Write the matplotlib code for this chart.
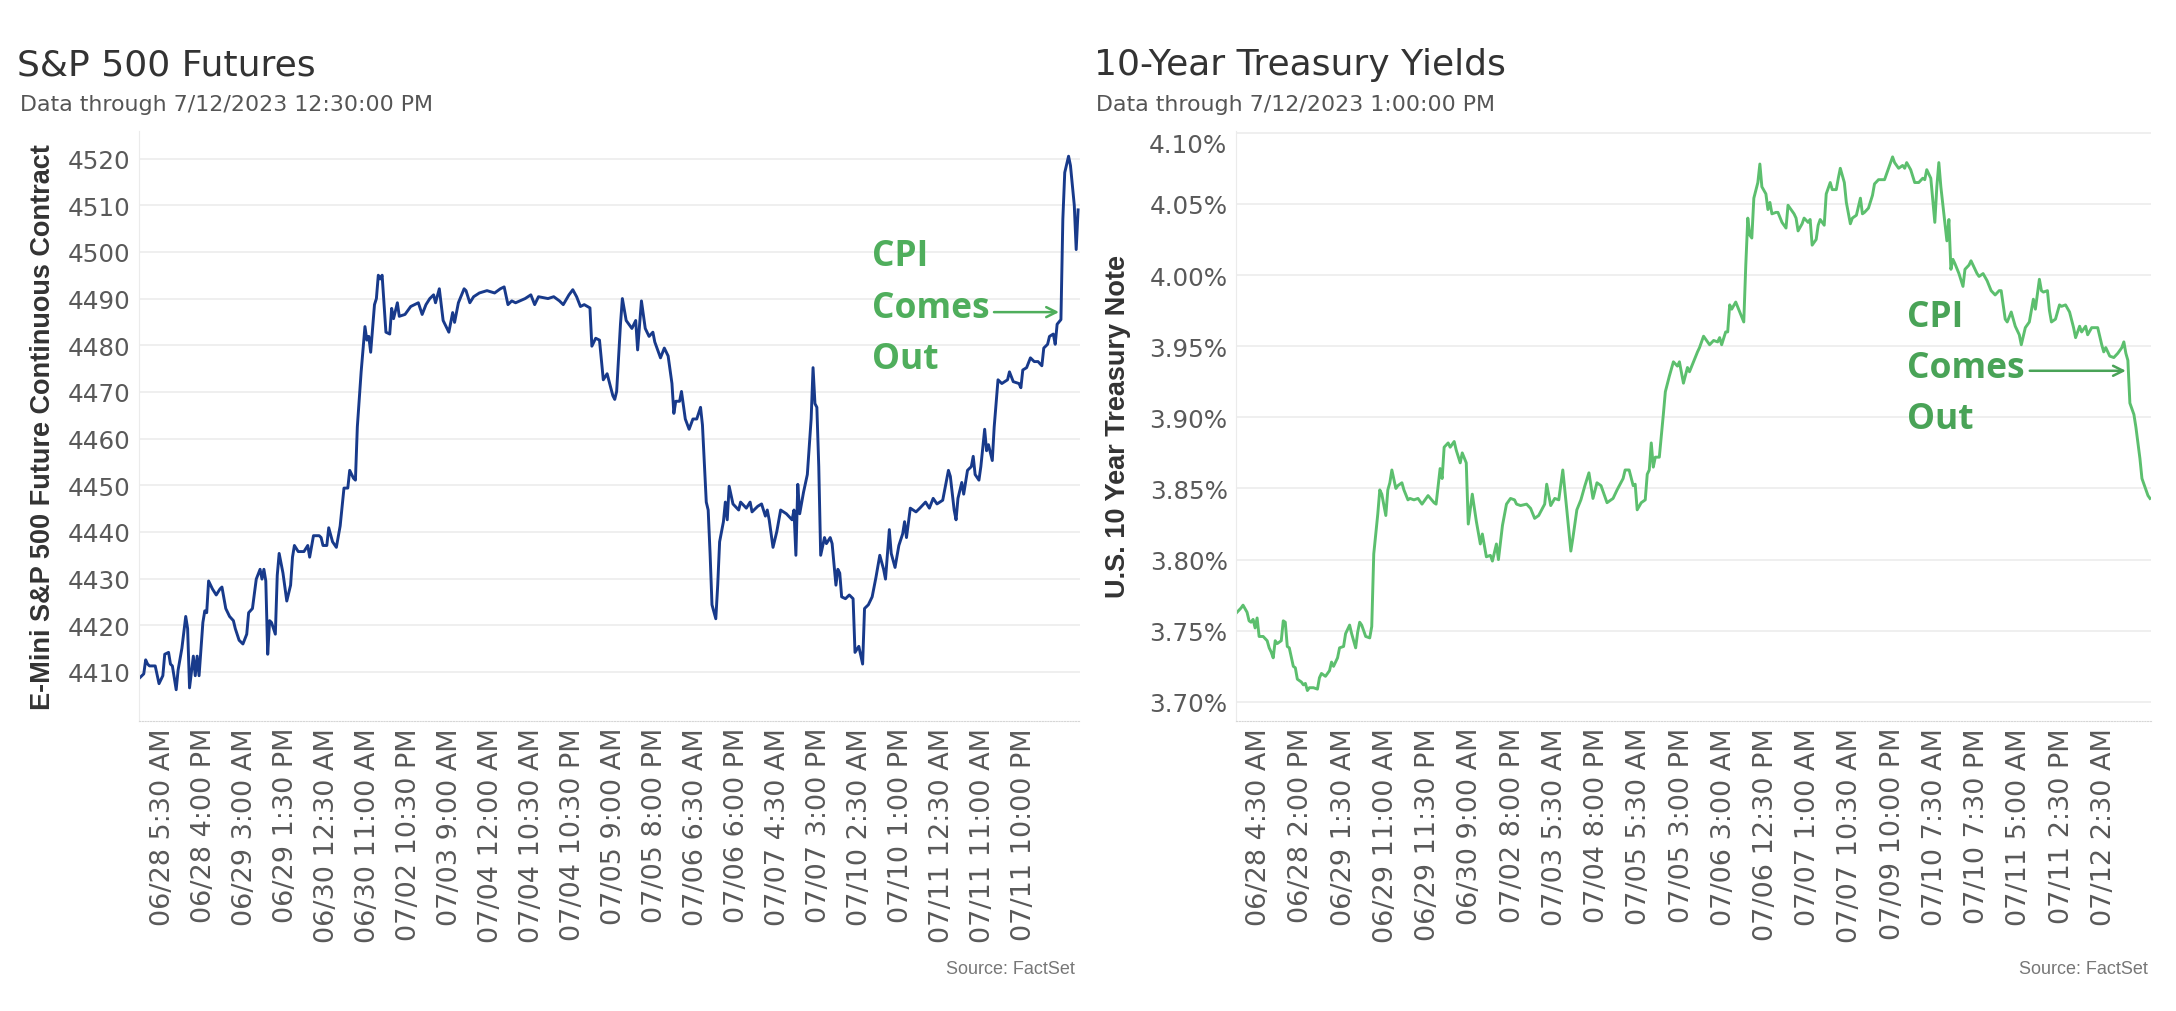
import numpy as np
import matplotlib
matplotlib.use("Agg")
import matplotlib.pyplot as plt

plt.rcParams['font.family'] = 'DejaVu Sans'

# S&P 500 futures: half-hour slot index -> price
sp_slot = [0, 2, 3, 4, 5, 8, 10, 12, 13, 15,
           16, 17, 19, 20, 22, 24, 25, 26, 28, 29,
           30, 31, 33, 34, 35, 36, 38, 40, 42, 43,
           45, 47, 49, 50, 52, 54, 56, 57, 59, 61,
           63, 64, 65, 66, 67, 68, 69, 71, 72, 73,
           75, 77, 79, 80, 81, 83, 86, 88, 89, 91,
           94, 95, 96, 98, 99, 101, 103, 105, 107, 109,
           110, 112, 113, 114, 116, 118, 119, 120, 121, 123,
           124, 125, 126, 127, 129, 131, 132, 133, 135, 136,
           139, 142, 146, 148, 150, 152, 154, 155, 157, 159,
           162, 164, 165, 167, 170, 171, 173, 175, 178, 182,
           186, 189, 191, 193, 195, 197, 202, 205, 207, 209,
           214, 217, 220, 222, 225, 227, 229, 231, 233, 236,
           237, 239, 241, 243, 245, 248, 249, 250, 252, 253,
           255, 258, 260, 261, 263, 265, 267, 269, 270, 273,
           275, 277, 279, 280, 281, 283, 284, 286, 288, 290,
           292, 294, 295, 297, 298, 299, 300, 302, 303, 304,
           306, 307, 308, 309, 311, 314, 315, 318, 320, 321,
           324, 326, 328, 329, 330, 332, 334, 336, 339, 342,
           343, 344, 345, 346, 348, 350, 352, 353, 354, 355,
           356, 357, 359, 360, 362, 363, 365, 366, 367, 368,
           370, 372, 374, 375, 377, 379, 380, 382, 384, 386,
           388, 390, 391, 393, 394, 396, 398, 400, 401, 402,
           404, 407, 409, 412, 414, 416, 418, 421, 424, 425,
           427, 428, 429, 431, 432, 434, 436, 437, 438, 440,
           441, 443, 444, 445, 447, 448, 450, 452, 455, 456,
           458, 461, 462, 463, 465, 467, 469, 471, 473, 474,
           476, 477, 479, 480, 481, 483, 484, 485, 487, 488,
           490, 491, 492]
sp_value = [4408.8, 4409.6, 4412.6, 4411.7, 4411.3, 4411.3, 4407.5, 4409.2, 4413.8, 4414.2,
            4411.7, 4411.3, 4406.2, 4410.4, 4415.1, 4421.9, 4419.3, 4406.6, 4413.4, 4409.2,
            4413.4, 4409.2, 4420.6, 4423.1, 4422.7, 4429.5, 4427.8, 4426.5, 4427.8, 4428.2,
            4423.6, 4421.9, 4421.0, 4419.3, 4416.8, 4416.0, 4418.1, 4422.7, 4423.6, 4429.9,
            4432.0, 4429.9, 4432.0, 4429.5, 4413.8, 4421.0, 4420.6, 4418.1, 4430.7, 4435.4,
            4431.2, 4425.2, 4428.6, 4434.6, 4437.1, 4435.8, 4435.8, 4437.1, 4434.6, 4439.2,
            4439.2, 4438.8, 4437.1, 4437.1, 4440.9, 4437.9, 4436.7, 4441.3, 4449.4, 4449.4,
            4453.2, 4451.5, 4451.1, 4462.5, 4474.3, 4484.0, 4481.1, 4481.9, 4478.5, 4488.7,
            4490.0, 4495.0, 4494.2, 4495.0, 4482.8, 4482.4, 4487.9, 4485.7, 4489.1, 4486.2,
            4486.6, 4488.3, 4489.1, 4486.6, 4488.7, 4490.0, 4490.8, 4489.1, 4492.1, 4485.3,
            4482.8, 4487.0, 4484.9, 4489.1, 4492.1, 4491.7, 4489.1, 4490.4, 4491.2, 4491.7,
            4491.2, 4492.1, 4492.5, 4488.7, 4489.5, 4489.1, 4490.0, 4490.8, 4488.7, 4490.4,
            4490.0, 4490.4, 4489.5, 4488.7, 4490.8, 4491.9, 4490.4, 4488.3, 4488.7, 4488.0,
            4479.8, 4481.5, 4481.1, 4472.6, 4473.9, 4469.2, 4468.4, 4470.1, 4484.5, 4490.0,
            4485.3, 4483.6, 4485.3, 4479.0, 4489.5, 4483.6, 4481.9, 4482.8, 4480.7, 4477.3,
            4479.4, 4477.7, 4471.8, 4465.4, 4468.0, 4468.0, 4470.1, 4464.2, 4462.0, 4464.2,
            4464.2, 4466.7, 4462.9, 4446.4, 4444.7, 4435.4, 4424.4, 4421.4, 4428.6, 4437.9,
            4442.2, 4446.4, 4442.6, 4449.8, 4446.0, 4444.7, 4446.4, 4445.1, 4446.4, 4444.3,
            4445.5, 4446.0, 4443.4, 4444.7, 4442.6, 4436.7, 4440.1, 4444.7, 4443.9, 4442.6,
            4444.7, 4435.0, 4450.2, 4443.9, 4448.5, 4452.3, 4464.2, 4475.2, 4467.5, 4466.7,
            4454.0, 4435.0, 4438.8, 4437.5, 4438.8, 4437.5, 4428.6, 4432.0, 4431.2, 4426.1,
            4425.7, 4426.5, 4425.7, 4414.2, 4415.5, 4411.7, 4423.6, 4424.4, 4426.1, 4430.3,
            4435.0, 4432.0, 4429.9, 4440.5, 4435.4, 4432.4, 4437.1, 4439.6, 4442.2, 4438.8,
            4445.1, 4444.3, 4445.1, 4446.4, 4445.1, 4447.2, 4446.0, 4446.8, 4453.2, 4451.9,
            4444.7, 4442.6, 4447.2, 4450.6, 4448.1, 4453.2, 4454.0, 4456.2, 4452.3, 4451.1,
            4454.0, 4462.0, 4457.4, 4458.7, 4455.3, 4462.5, 4472.6, 4471.8, 4472.6, 4474.3,
            4472.2, 4471.8, 4470.9, 4474.7, 4475.2, 4477.3, 4476.5, 4476.5, 4475.6, 4479.4,
            4480.2, 4481.9, 4482.4, 4480.2, 4484.5, 4485.5, 4507.0, 4517.0, 4520.5, 4518.5,
            4510.0, 4500.5, 4509.0]
sp_labels = ["06/28 5:30 AM", "06/28 4:00 PM", "06/29 3:00 AM", "06/29 1:30 PM",
             "06/30 12:30 AM", "06/30 11:00 AM", "07/02 10:30 PM", "07/03 9:00 AM",
             "07/04 12:00 AM", "07/04 10:30 AM", "07/04 10:30 PM", "07/05 9:00 AM",
             "07/05 8:00 PM", "07/06 6:30 AM", "07/06 6:00 PM", "07/07 4:30 AM",
             "07/07 3:00 PM", "07/10 2:30 AM", "07/10 1:00 PM", "07/11 12:30 AM",
             "07/11 11:00 AM", "07/11 10:00 PM"]
sp_yticks = [4410, 4420, 4430, 4440, 4450, 4460, 4470, 4480, 4490, 4500, 4510, 4520]
sp_cpi_slot = 482

# 10-year treasury yield (%): half-hour slot index -> yield
ty_slot = [0, 2, 3, 5, 6, 7, 8, 9, 10, 11,
           13, 15, 16, 17, 18, 19, 20, 22, 23, 24,
           25, 26, 28, 29, 30, 32, 33, 34, 35, 36,
           38, 40, 41, 42, 44, 46, 47, 48, 50, 51,
           53, 54, 56, 57, 59, 60, 61, 62, 64, 66,
           67, 68, 70, 71, 72, 74, 75, 76, 77, 79,
           80, 82, 83, 85, 86, 88, 90, 92, 95, 98,
           99, 101, 102, 103, 105, 106, 108, 109, 111, 112,
           114, 115, 117, 119, 121, 122, 124, 126, 127, 129,
           130, 132, 134, 136, 138, 139, 141, 144, 146, 148,
           150, 153, 154, 156, 158, 160, 162, 164, 166, 167,
           169, 171, 173, 175, 177, 179, 181, 184, 187, 189,
           192, 193, 195, 197, 198, 199, 201, 203, 204, 205,
           206, 207, 208, 210, 212, 213, 215, 217, 219, 220,
           222, 224, 225, 227, 229, 230, 232, 234, 235, 237,
           239, 240, 241, 243, 244, 245, 246, 248, 250, 252,
           253, 254, 255, 256, 257, 259, 260, 261, 263, 264,
           265, 266, 268, 269, 271, 273, 274, 275, 277, 278,
           279, 281, 282, 284, 285, 286, 288, 289, 290, 292,
           293, 294, 295, 296, 298, 299, 300, 302, 303, 305,
           306, 308, 310, 311, 312, 314, 316, 317, 319, 322,
           324, 326, 327, 329, 331, 332, 333, 335, 337, 339,
           341, 342, 343, 345, 347, 348, 349, 350, 352, 353,
           354, 355, 356, 357, 359, 361, 362, 364, 365, 367,
           368, 369, 371, 373, 375, 377, 379, 380, 382, 383,
           385, 387, 389, 390, 392, 394, 396, 397, 399, 400,
           401, 403, 404, 405, 407, 409, 410, 412, 414, 416,
           417, 419, 420, 422, 423, 425, 428, 430, 431, 432,
           434, 436, 438, 440, 441, 442, 443, 444, 446, 447,
           449, 450, 451, 453, 454]
ty_value = [3.763, 3.766, 3.768, 3.763, 3.757, 3.756, 3.758, 3.752, 3.759, 3.746,
            3.746, 3.743, 3.738, 3.735, 3.731, 3.743, 3.741, 3.743, 3.757, 3.756,
            3.739, 3.738, 3.725, 3.724, 3.716, 3.714, 3.712, 3.713, 3.708, 3.710,
            3.710, 3.709, 3.717, 3.720, 3.718, 3.722, 3.728, 3.725, 3.731, 3.738,
            3.739, 3.748, 3.754, 3.748, 3.738, 3.749, 3.756, 3.754, 3.746, 3.745,
            3.753, 3.804, 3.832, 3.849, 3.846, 3.831, 3.849, 3.854, 3.863, 3.850,
            3.852, 3.854, 3.849, 3.842, 3.843, 3.842, 3.843, 3.839, 3.845, 3.840,
            3.839, 3.864, 3.857, 3.879, 3.882, 3.879, 3.883, 3.877, 3.868, 3.875,
            3.868, 3.825, 3.846, 3.827, 3.811, 3.818, 3.802, 3.803, 3.799, 3.811,
            3.800, 3.824, 3.839, 3.843, 3.842, 3.839, 3.838, 3.839, 3.836, 3.829,
            3.831, 3.839, 3.853, 3.838, 3.843, 3.842, 3.863, 3.835, 3.806, 3.815,
            3.835, 3.842, 3.852, 3.861, 3.843, 3.854, 3.852, 3.840, 3.843, 3.849,
            3.857, 3.863, 3.863, 3.852, 3.853, 3.835, 3.840, 3.842, 3.860, 3.863,
            3.882, 3.865, 3.872, 3.872, 3.902, 3.918, 3.929, 3.939, 3.936, 3.939,
            3.924, 3.935, 3.932, 3.939, 3.946, 3.949, 3.957, 3.953, 3.951, 3.954,
            3.953, 3.956, 3.951, 3.960, 3.960, 3.979, 3.976, 3.981, 3.974, 3.967,
            4.007, 4.040, 4.028, 4.026, 4.054, 4.065, 4.078, 4.062, 4.057, 4.046,
            4.051, 4.043, 4.044, 4.044, 4.037, 4.033, 4.049, 4.047, 4.043, 4.040,
            4.031, 4.036, 4.040, 4.037, 4.039, 4.021, 4.025, 4.035, 4.039, 4.035,
            4.057, 4.061, 4.065, 4.060, 4.060, 4.068, 4.075, 4.065, 4.051, 4.036,
            4.040, 4.042, 4.054, 4.043, 4.044, 4.047, 4.056, 4.064, 4.067, 4.067,
            4.075, 4.083, 4.079, 4.075, 4.077, 4.075, 4.079, 4.074, 4.065, 4.065,
            4.068, 4.067, 4.074, 4.068, 4.037, 4.062, 4.079, 4.062, 4.037, 4.024,
            4.039, 4.004, 4.011, 4.008, 4.001, 3.992, 4.004, 4.007, 4.010, 4.004,
            4.001, 3.999, 4.001, 3.996, 3.989, 3.986, 3.989, 3.989, 3.969, 3.967,
            3.974, 3.964, 3.958, 3.951, 3.963, 3.967, 3.983, 3.976, 3.997, 3.989,
            3.988, 3.989, 3.975, 3.967, 3.969, 3.979, 3.978, 3.979, 3.974, 3.963,
            3.956, 3.964, 3.960, 3.964, 3.958, 3.963, 3.963, 3.951, 3.946, 3.949,
            3.943, 3.942, 3.945, 3.949, 3.953, 3.945, 3.940, 3.910, 3.902, 3.893,
            3.871, 3.857, 3.853, 3.845, 3.843]
ty_labels = ["06/28 4:30 AM", "06/28 2:00 PM", "06/29 1:30 AM", "06/29 11:00 AM",
             "06/29 11:30 PM", "06/30 9:00 AM", "07/02 8:00 PM", "07/03 5:30 AM",
             "07/04 8:00 PM", "07/05 5:30 AM", "07/05 3:00 PM", "07/06 3:00 AM",
             "07/06 12:30 PM", "07/07 1:00 AM", "07/07 10:30 AM", "07/09 10:00 PM",
             "07/10 7:30 AM", "07/10 7:30 PM", "07/11 5:00 AM", "07/11 2:30 PM",
             "07/12 2:30 AM"]
ty_yticks = [3.70, 3.75, 3.80, 3.85, 3.90, 3.95, 4.00, 4.05, 4.10]
ty_cpi_slot = 442

W, H = 2176, 1012
TICK_GREY = "#595959"
DARK = "#333333"


def px_box(left, top, right, bottom):
    return [left / W, 1 - bottom / H, (right - left) / W, (bottom - top) / H]


def style_axes(ax):
    ax.set_facecolor("white")
    ax.grid(axis="y", color="#eeeeee", linewidth=1.3)
    ax.set_axisbelow(True)
    for side in ["top", "right"]:
        ax.spines[side].set_visible(False)
    ax.spines["left"].set_color("#ebebeb")
    ax.spines["bottom"].set_color("#d6d6d6")
    ax.spines["bottom"].set_linestyle((0, (1, 1.5)))
    ax.tick_params(axis="x", length=0, pad=4.3, labelsize=19.5,
                   labelcolor=TICK_GREY)
    ax.tick_params(axis="y", length=0, pad=6, labelsize=17.7,
                   labelcolor=TICK_GREY)


fig = plt.figure(figsize=(W / 100, H / 100), dpi=100)
fig.patch.set_facecolor("white")

# ---- left: S&P 500 futures
ax1 = fig.add_axes(px_box(139, 132, 1080, 722))
ax1.plot(sp_slot, sp_value, color="#183a8b", linewidth=2.1)
ax1.set_xlim(-0.5, 493)
ax1.set_ylim(4399.5, 4525.9)
sp_tick_pos = 11.9 + 21.52 * np.arange(len(sp_labels))
ax1.set_xticks(sp_tick_pos, sp_labels, rotation=90)
ax1.set_yticks(sp_yticks, [str(t) for t in sp_yticks])
style_axes(ax1)

green1 = "#4fae5c"
for yf, word in zip([0.788, 0.700, 0.614], ["CPI", "Comes", "Out"]):
    ax1.text(0.779, yf, word, transform=ax1.transAxes, ha="left", va="center",
             fontsize=25.5, fontweight="bold", family="Open Sans", color=green1)
ax1.annotate("", xy=(sp_cpi_slot, 0.693), xycoords=("data", "axes fraction"),
             xytext=(0.9086, 0.693), textcoords="axes fraction",
             arrowprops=dict(arrowstyle="->", color=green1, lw=1.8,
                             shrinkA=0, shrinkB=0, mutation_scale=18))

# ---- right: 10-year treasury
ax2 = fig.add_axes(px_box(1236, 132, 2151, 722))
ax2.plot(ty_slot, ty_value, color="#5cbf6e", linewidth=2.1)
ax2.set_xlim(-0.5, 454.5)
ax2.set_ylim(3.6866, 4.1012)
ty_tick_pos = 11.07 + 21.0 * np.arange(len(ty_labels))
ax2.set_xticks(ty_tick_pos, ty_labels, rotation=90)
ax2.set_yticks(ty_yticks, ["" if t == ty_yticks[-1] else f"{t:.2f}%" for t in ty_yticks])
style_axes(ax2)
# the top label sits inside the pane, as in the original
ax2.text(-8.7 / 915, ty_yticks[-1], f"{ty_yticks[-1]:.2f}%",
         transform=ax2.get_yaxis_transform(), ha="right", va="top",
         fontsize=17.7, color=TICK_GREY)

green2 = "#49a357"
for yf, word in zip([0.685, 0.599, 0.512], ["CPI", "Comes", "Out"]):
    ax2.text(0.733, yf, word, transform=ax2.transAxes, ha="left", va="center",
             fontsize=25.5, fontweight="bold", family="Open Sans", color=green2)
ax2.annotate("", xy=(ty_cpi_slot, 0.5936), xycoords=("data", "axes fraction"),
             xytext=(0.8675, 0.5936), textcoords="axes fraction",
             arrowprops=dict(arrowstyle="->", color=green2, lw=1.8,
                             shrinkA=0, shrinkB=0, mutation_scale=18))

# ---- titles, axis titles, sources
fig.text(17 / W, 1 - 75 / H, "S&P 500 Futures", fontsize=26, color=DARK,
         ha="left", va="baseline")
fig.text(20 / W, 1 - 111 / H, "Data through 7/12/2023 12:30:00 PM", fontsize=15.9,
         color="#555555", ha="left", va="baseline")
fig.text(1094 / W, 1 - 75 / H, "10-Year Treasury Yields", fontsize=26, color=DARK,
         ha="left", va="baseline")
fig.text(1096 / W, 1 - 111 / H, "Data through 7/12/2023 1:00:00 PM", fontsize=15.9,
         color="#555555", ha="left", va="baseline")

fig.text(43 / W, 1 - 427 / H, "E-Mini S&P 500 Future Continuous Contract",
         rotation=90, ha="center", va="center", fontsize=19.5, fontweight="bold",
         family="Liberation Sans", color=DARK)
fig.text(1118 / W, 1 - 427 / H, "U.S. 10 Year Treasury Note",
         rotation=90, ha="center", va="center", fontsize=19.5, fontweight="bold",
         family="Liberation Sans", color=DARK)

fig.text(1075 / W, 1 - 970 / H, "Source: FactSet", ha="right", va="center",
         fontsize=13, family="Liberation Sans", color="#777777")
fig.text(2148 / W, 1 - 970 / H, "Source: FactSet", ha="right", va="center",
         fontsize=13, family="Liberation Sans", color="#777777")

fig.savefig("out.png", dpi=100, facecolor="white")
